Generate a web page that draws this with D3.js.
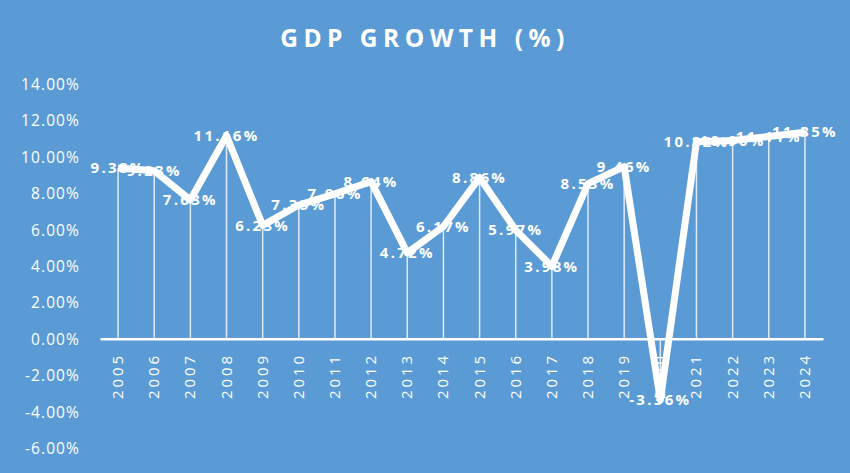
<!DOCTYPE html>
<html>
<head>
<meta charset="utf-8">
<script src="https://cdn.jsdelivr.net/npm/d3@7"></script>
<style>
html,body{margin:0;padding:0;background:#5B9BD5;}
svg{display:block;}
</style>
</head>
<body>
<svg id="chart" width="850" height="473"></svg>
<script>
const years = ["2005","2006","2007","2008","2009","2010","2011","2012","2013","2014","2015","2016","2017","2018","2019","2020","2021","2022","2023","2024"];
const growth = [9.38,9.23,7.63,11.16,6.23,7.35,7.96,8.64,4.72,6.17,8.86,5.97,3.98,8.53,9.46,-3.36,10.82,10.90,11.11,11.35];
const yTicks = [-6,-4,-2,0,2,4,6,8,10,12,14];
const title = "GDP GROWTH (%)";

const pct = v => (v < 0 ? "-" : "") + Math.abs(v).toFixed(2) + "%";
const data = years.map((y,i)=>({year:y, value:growth[i]}));
const svg = d3.select("#chart");
const W = 850, H = 473;
svg.append("rect").attr("width",W).attr("height",H).attr("fill","#5B9BD5");

const x = d3.scaleBand().domain(years).range([100,823]);
const y = d3.scaleLinear().domain([-6,14]).range([448,84]);
const cx = d => x(d) + x.bandwidth()/2;

svg.append("text").attr("x",425).attr("y",47).attr("text-anchor","middle")
  .attr("fill","#fff").attr("font-family","'Open Sans', sans-serif").attr("font-weight","bold")
  .attr("font-size",24.5).attr("letter-spacing",5.5).text(title);

// y axis labels
const yAxis = d3.axisLeft(y).tickValues(yTicks).tickSize(0).tickPadding(0)
  .tickFormat(pct);
const ga = svg.append("g").attr("transform","translate(80,0)").call(yAxis);
ga.select(".domain").remove();
ga.selectAll("text").attr("fill","#fff").attr("font-family","'Open Sans', sans-serif")
  .attr("font-size",15.5).attr("letter-spacing",1.1).attr("dy","0.35em");

// drop lines
svg.append("g").selectAll("line").data(data).join("line")
  .attr("x1",d=>cx(d.year)).attr("x2",d=>cx(d.year))
  .attr("y1",y(0)).attr("y2",d=>y(d.value))
  .attr("stroke","rgba(255,255,255,0.8)").attr("stroke-width",1.5);

// zero axis line
const xAxis = d3.axisBottom(x).tickSize(0).tickPadding(0);
const gx = svg.append("g").attr("transform",`translate(0,${y(0)})`).call(xAxis);
gx.select(".domain").attr("stroke","#fff").attr("stroke-width",2.5);
gx.selectAll("text").attr("fill","#fff").attr("font-family","'Open Sans', sans-serif")
  .attr("font-size",15).attr("letter-spacing",3)
  .attr("text-anchor","end").attr("dy",null).attr("y",0)
  .attr("transform","translate(5,14) rotate(-90)");

// line
const line = d3.line().x(d=>cx(d.year)).y(d=>y(d.value));
svg.append("path").datum(data).attr("d",line).attr("fill","none")
  .attr("stroke","#fff").attr("stroke-width",7).attr("stroke-linejoin","round");

// labels
svg.append("g").selectAll("text").data(data).join("text")
  .attr("x",d=>cx(d.year)).attr("y",d=>y(d.value)).attr("dy","0.35em")
  .attr("text-anchor","middle").attr("fill","#fff")
  .attr("font-family","'Open Sans', sans-serif").attr("font-weight","bold")
  .attr("font-size",15).attr("letter-spacing",2.3)
  .text(d=>pct(d.value));
</script>
</body>
</html>
